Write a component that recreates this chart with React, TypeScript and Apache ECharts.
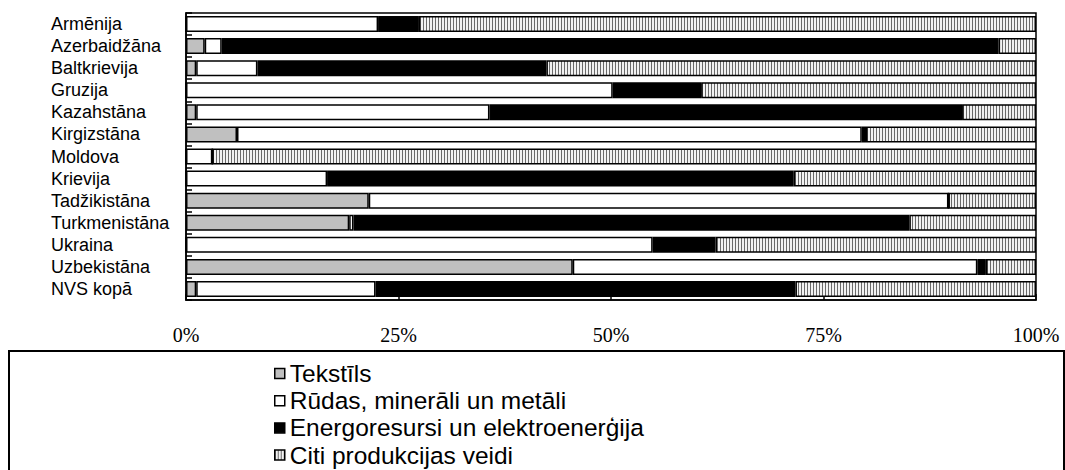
import React, { useEffect, useRef } from 'react';
import * as echarts from 'echarts';

const categories = [
  'Armēnija',
  'Azerbaidžāna',
  'Baltkrievija',
  'Gruzija',
  'Kazahstāna',
  'Kirgizstāna',
  'Moldova',
  'Krievija',
  'Tadžikistāna',
  'Turkmenistāna',
  'Ukraina',
  'Uzbekistāna',
  'NVS kopā',
];

const seriesNames = [
  'Tekstīls',
  'Rūdas, minerāli un metāli',
  'Energoresursi un elektroenerģija',
  'Citi produkcijas veidi',
];

const textiles = [0, 2.2, 1.2, 0, 1.2, 6.0, 0, 0, 21.5, 19.2, 0, 45.5, 1.2];
const ores = [22.6, 2.0, 7.2, 50.2, 34.5, 73.5, 3.1, 16.6, 68.2, 0.5, 54.9, 47.6, 21.1];
const energy = [4.8, 91.4, 34.0, 10.4, 55.6, 0.5, 0, 54.9, 0, 65.4, 7.4, 1.0, 49.4];
const other = [72.6, 4.4, 57.6, 39.4, 8.7, 20.0, 96.9, 28.5, 10.3, 14.9, 37.7, 5.9, 28.3];

const xTicks = [0, 25, 50, 75, 100];

function makeHatch(): string {
  const c = document.createElement('canvas');
  c.width = 3;
  c.height = 4;
  const ctx = c.getContext('2d');
  if (ctx) {
    ctx.fillStyle = '#f2f2f2';
    ctx.fillRect(0, 0, 3, 4);
    ctx.fillStyle = '#6a6a6a';
    ctx.fillRect(0, 0, 1, 4);
  }
  return c.toDataURL();
}

export default function App() {
  const ref = useRef<HTMLDivElement>(null);

  useEffect(() => {
    document.body.style.margin = '0';
    if (!ref.current) return;
    const chart = echarts.init(ref.current, undefined, { renderer: 'svg' });
    const hatch = makeHatch();
    const hatchColor: any = { image: hatch, repeat: 'repeat', imageWidth: 3, imageHeight: 4 };
    const colors: any[] = ['#c0c0c0', '#ffffff', '#000000', hatchColor];
    const values = [textiles, ores, energy, other];

    chart.setOption({
      animation: false,
      grid: {
        left: 186,
        top: 13,
        right: 29,
        bottom: 170,
        show: true,
        borderColor: '#000',
        borderWidth: 1.5,
        backgroundColor: 'transparent',
      },
      legend: {
        data: seriesNames.map((n, i) => ({ name: n, itemStyle: { color: colors[i], borderColor: '#000', borderWidth: 1.5 } })),
        orient: 'vertical',
        left: 274,
        top: 361,
        height: 200,
        icon: 'rect',
        itemWidth: 10,
        itemHeight: 10,
        itemGap: 2.2,
        padding: 0,
        selectedMode: false,
        textStyle: {
          fontFamily: 'Liberation Sans',
          fontSize: 24.5,
          color: '#000',
        },
      },
      xAxis: {
        type: 'value',
        min: xTicks[0],
        max: xTicks[xTicks.length - 1],
        interval: 25,
        splitLine: { show: false },
        axisLine: { show: true, lineStyle: { color: '#000', width: 1.5 } },
        axisTick: { show: true, inside: true, length: 6, lineStyle: { color: '#000', width: 1.5 } },
        axisLabel: {
          formatter: '{value}%',
          fontFamily: 'Liberation Serif',
          fontSize: 20,
          color: '#000',
          margin: 25,
        },
      },
      yAxis: {
        type: 'category',
        data: categories,
        inverse: true,
        axisLine: { show: true, lineStyle: { color: '#000', width: 1.5 } },
        axisTick: { show: true, inside: true, length: 6, lineStyle: { color: '#000', width: 1.5 } },
        axisLabel: {
          interval: 0,
          align: 'left',
          margin: 135,
          fontFamily: 'Liberation Sans',
          fontSize: 18,
          color: '#000',
        },
      },
      series: seriesNames.map((name, i) => ({
        name,
        type: 'bar',
        stack: 'total',
        barWidth: 16,
        silent: true,
        data: values[i],
        itemStyle: { color: colors[i], borderColor: '#000', borderWidth: 1.5 },
      })),
      graphic: [
        {
          type: 'rect',
          silent: true,
          shape: { x: 9, y: 351, width: 1055, height: 140 },
          style: { fill: 'none', stroke: '#000', lineWidth: 2 },
        },
      ],
    });

    return () => {
      chart.dispose();
    };
  }, []);

  return <div ref={ref} style={{ width: 1065, height: 470 }} />;
}
